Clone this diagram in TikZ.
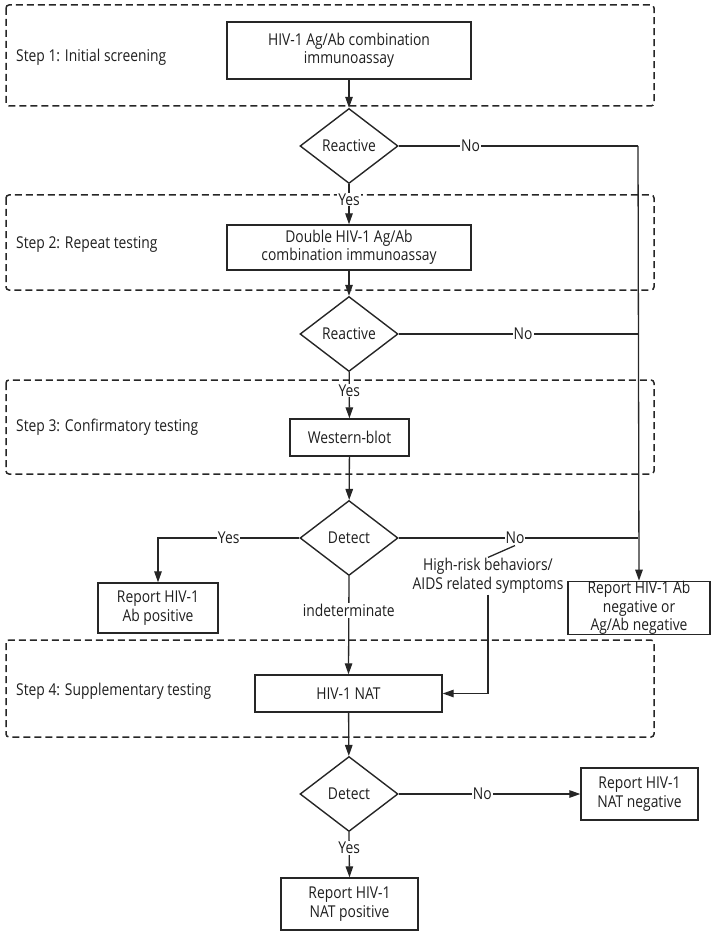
\documentclass[tikz,border=0pt]{standalone}
\usepackage{fontspec}
\setmainfont[FakeStretch=0.85]{Open Sans}
\usetikzlibrary{shapes.geometric,arrows.meta}
\definecolor{lc}{HTML}{262626}
\definecolor{tc}{HTML}{1E1E1E}
\begin{document}
\begin{tikzpicture}[x=1pt,y=-1pt,
  font=\fontsize{16.3}{18.5}\selectfont,
  every node/.style={text=tc},
  stepframe/.style={draw=lc,line width=1.5pt,dash pattern=on 7pt off 4pt,rounded corners=3pt},
  procbox/.style={draw=lc,line width=1.4pt,rectangle,inner sep=0pt,align=center},
  decide/.style={draw=lc,line width=1.4pt,diamond,aspect=1.3,inner sep=0pt,minimum width=98pt,minimum height=75pt},
  steplabel/.style={anchor=west,inner sep=0pt},
  conn/.style={draw=lc,line width=1.3pt},
  arr/.style={conn,-{Triangle[length=11pt,width=7.5pt]}},
  lbl/.style={fill=white,inner sep=1pt}
]
\useasboundingbox (0,0) rectangle (714,933);
% step frames
\draw[stepframe] (6,5) rectangle (654,106);
\draw[stepframe] (6,195) rectangle (654,290);
\draw[stepframe] (6,380) rectangle (654,474);
\draw[stepframe] (6,640) rectangle (654,737);
\node[steplabel] (s1) at (16,57) {Step 1: Initial screening};
\node[steplabel] (s2) at (16,244) {Step 2: Repeat testing};
\node[steplabel] (s3) at (16,427) {Step 3: Confirmatory testing};
\node[steplabel] (s4) at (16,691) {Step 4: Supplementary testing};
% nodes
\node[procbox,minimum width=244pt,minimum height=57pt] (b1) at (349,50.5) {HIV-1 Ag/Ab combination\\immunoassay};
\node[decide] (d1) at (349,146) {Reactive};
\node[procbox,minimum width=244pt,minimum height=45pt] (b2) at (349,247.5) {Double HIV-1 Ag/Ab\\combination immunoassay};
\node[decide] (d2) at (349,334) {Reactive};
\node[procbox,minimum width=119pt,minimum height=37pt] (wb) at (349.5,437.5) {Western-blot};
\node[decide] (d3) at (349,538) {Detect};
\node[procbox,minimum width=120pt,minimum height=50pt] (pos) at (158,608) {Report HIV-1\\Ab positive};
\node[procbox,minimum width=142pt,minimum height=50pt] (neg) at (639,608) {Report HIV-1 Ab\\negative or\\Ag/Ab negative};
\node[procbox,minimum width=187pt,minimum height=37pt] (nat) at (348.5,693.5) {HIV-1 NAT};
\node[decide] (d4) at (349,794) {Detect};
\node[procbox,minimum width=117pt,minimum height=52pt] (natneg) at (639.5,794) {Report HIV-1\\NAT negative};
\node[procbox,minimum width=137pt,minimum height=52pt] (natpos) at (349.5,904) {Report HIV-1\\NAT positive};
\node[align=center,inner sep=1pt] (hr) at (488,576) {High-risk behaviors/\\AIDS related symptoms};
\coordinate (rtop) at (638,146);
\coordinate (r2) at (638,334);
\coordinate (r3) at (638,538);
\coordinate (posc) at (158,538);
\coordinate (hrbend) at (488,693.5);
% connectors
\draw[arr] (b1) -- (d1);
\draw[arr] (d1) -- node[lbl,pos=0.38]{Yes} (b2);
\draw[arr] (b2) -- (d2);
\draw[arr] (d2) -- node[lbl,pos=0.4]{Yes} (wb);
\draw[arr] (wb) -- (d3);
\draw[conn] (d1.east) -- node[lbl,pos=0.3]{No} (rtop);
\draw[arr] (rtop) -- (neg.north);
\draw[conn] (d2.east) -- node[lbl,pos=0.52]{No} (r2);
\draw[conn] (d3.east) -- node[lbl,pos=0.486] (no3){No} (r3);
\draw[arr] (d3.west) -- node[lbl,pos=0.5]{Yes} (posc) -- (pos.north);
\draw[conn] (no3.south) -- (hr.north);
\draw[arr] (hr.south) -- (hrbend) -- (nat.east);
\draw[arr] (d3.south) -- node[lbl,pos=0.35]{indeterminate} (nat.north);
\draw[arr] (nat) -- (d4);
\draw[arr] (d4.east) -- node[lbl,pos=0.46]{No} (natneg.west);
\draw[arr] (d4.south) -- node[lbl,pos=0.35]{Yes} (natpos.north);
\end{tikzpicture}
\end{document}
